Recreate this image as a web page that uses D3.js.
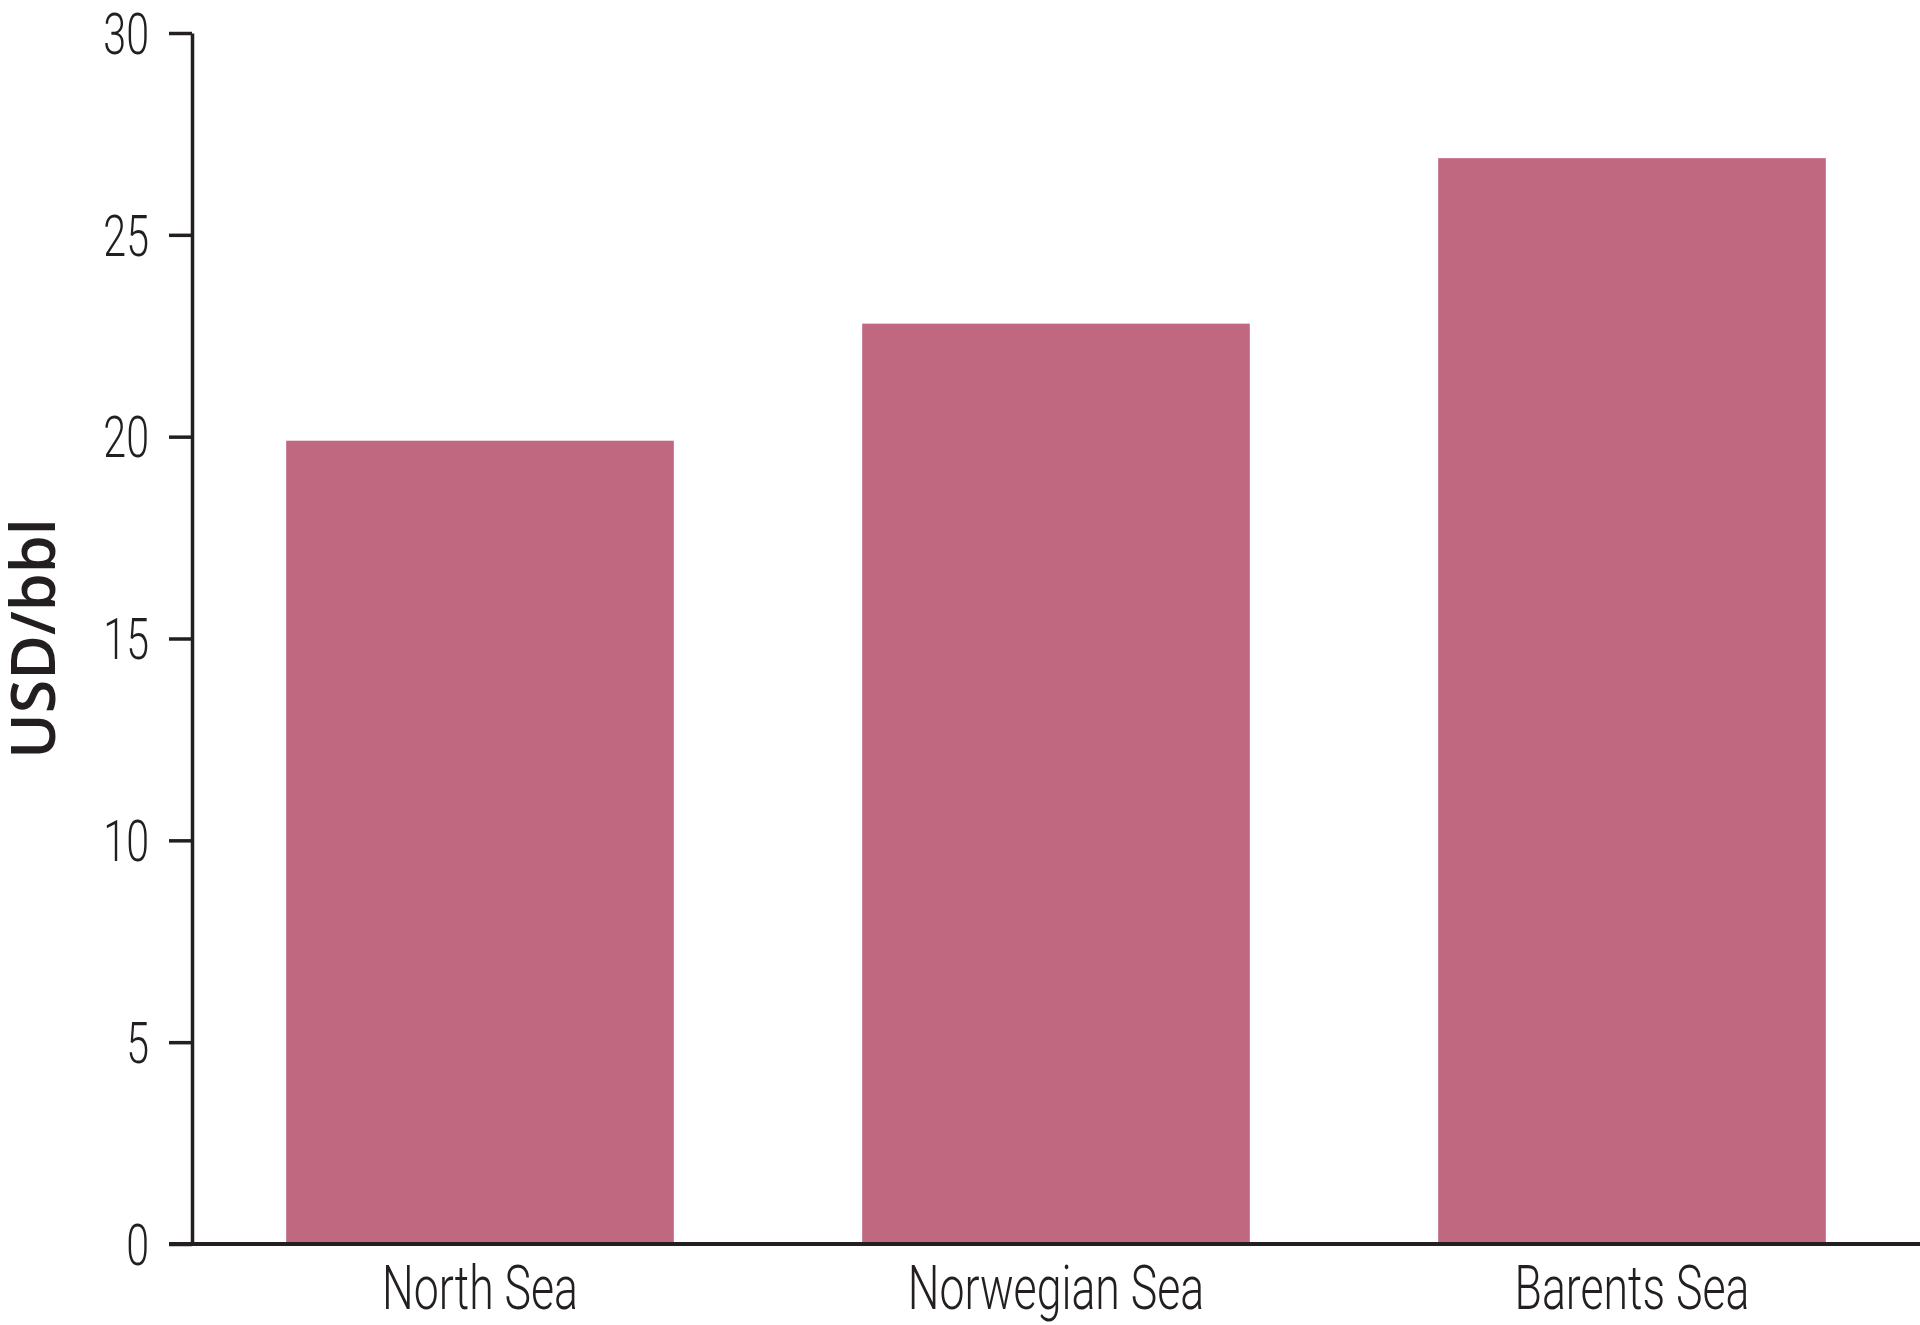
<!DOCTYPE html>
<html lang="en">
<head>
    <meta charset="UTF-8">
    <title>Cost by area</title>
    <script src="https://d3js.org/d3.v7.min.js"></script>
    <style>
        body { margin: 0; background: #fff; }
    </style>
</head>
<body>
    <svg width="1920" height="1325"></svg>

    <script>
        // chart data
        const areas = ['North Sea', 'Norwegian Sea', 'Barents Sea'];
        const values = [19.9, 22.8, 26.9];
        const yTicks = [0, 5, 10, 15, 20, 25, 30];
        const yLabel = 'USD/bbl';

        const ink = '#231f20';
        const barColor = '#c0687f';
        const thinFont = 'Roboto, "Liberation Sans Narrow", sans-serif';

        const svg = d3.select('svg');
        const axisX = 192, plotTop = 33, plotBottom = 1244, plotRight = 1920;
        const tickLen = 23;

        const x = d3.scaleBand()
            .domain(areas)
            .range([axisX, plotRight])
            .paddingInner(0.327)
            .paddingOuter(0.1635);

        const y = d3.scaleLinear()
            .domain([0, 30])
            .range([plotBottom, plotTop]);

        // bars
        svg.append('g')
            .selectAll('rect')
            .data(areas.map((a, i) => ({ area: a, value: values[i] })))
            .join('rect')
            .attr('x', d => x(d.area))
            .attr('width', x.bandwidth())
            .attr('y', d => y(d.value))
            .attr('height', d => y(0) - y(d.value))
            .attr('fill', barColor);

        // y axis
        const gy = svg.append('g')
            .attr('transform', `translate(${axisX},0)`)
            .call(d3.axisLeft(y).tickValues(yTicks).tickSize(tickLen).tickSizeOuter(0));
        gy.select('.domain').attr('stroke', ink).attr('stroke-width', 3.5);
        gy.selectAll('.tick line').attr('stroke', ink).attr('stroke-width', 3.5);
        gy.selectAll('.tick text')
            .attr('x', 0)
            .attr('dy', '0.35em')
            .attr('transform', 'translate(-43,0) scale(0.71,1)')
            .attr('fill', ink)
            .style('font-family', thinFont)
            .style('font-weight', 300)
            .style('font-size', '58px');

        // x axis
        const gx = svg.append('g')
            .attr('transform', `translate(0,${plotBottom})`)
            .call(d3.axisBottom(x).tickSize(0).tickSizeOuter(0));
        gx.select('.domain').remove();
        gx.append('line')
            .attr('x1', axisX - tickLen)
            .attr('x2', plotRight)
            .attr('stroke', ink)
            .attr('stroke-width', 4);
        gx.selectAll('.tick text')
            .attr('y', 0)
            .attr('dy', 0)
            .attr('transform', 'translate(0,65) scale(0.72,1)')
            .attr('fill', ink)
            .style('font-family', thinFont)
            .style('font-weight', 300)
            .style('font-size', '62px');

        // y axis title
        svg.append('text')
            .attr('transform', `translate(55,${(plotTop + plotBottom) / 2}) rotate(-90)`)
            .attr('text-anchor', 'middle')
            .attr('fill', ink)
            .style('font-family', '"Open Sans", sans-serif')
            .style('font-weight', 600)
            .style('font-size', '61px')
            .text(yLabel);
    </script>
</body>
</html>
